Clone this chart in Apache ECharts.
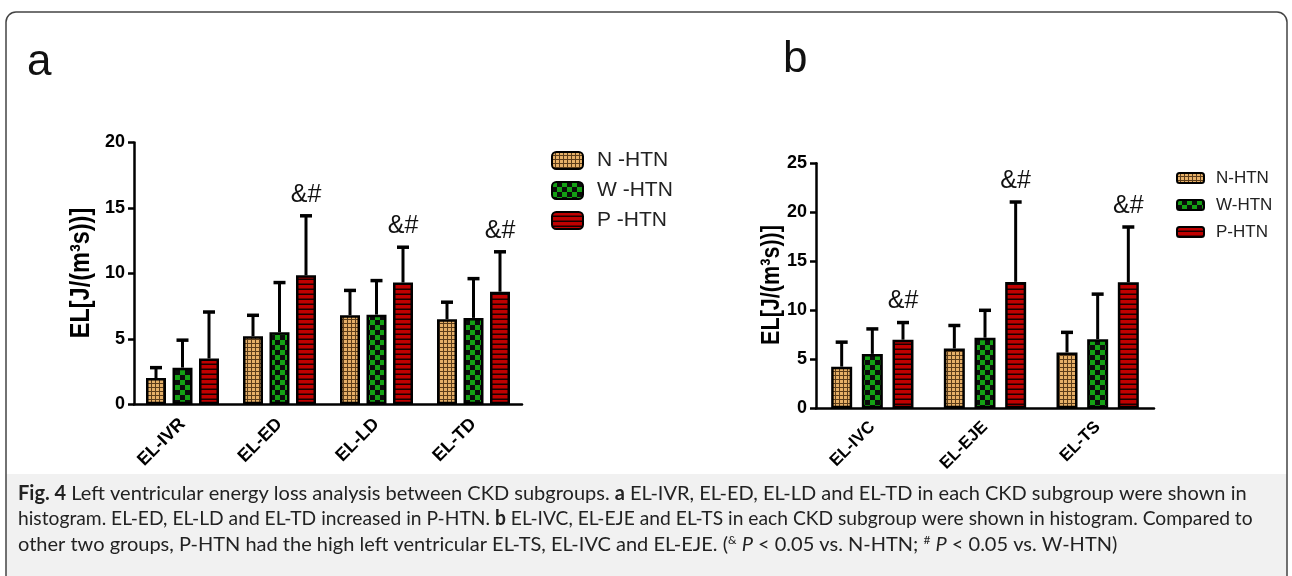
<!DOCTYPE html>
<html><head><meta charset="utf-8">
<script src="https://cdn.jsdelivr.net/npm/echarts@6/dist/echarts.min.js"></script>
<style>html,body{margin:0;padding:0;background:#fff}#c{width:1292px;height:576px}</style>
</head><body><div id="c"></div>
<script>
// ---- data ----
const catsA = ['EL-IVR','EL-ED','EL-LD','EL-TD'];
const nA    = [2.0, 5.2, 6.8, 6.5];
const nAerr = [2.8, 6.8, 8.7, 7.8];
const wA    = [2.8, 5.5, 6.85, 6.6];
const wAerr = [4.9, 9.3, 9.45, 9.6];
const pA    = [3.5, 9.85, 9.3, 8.6];
const pAerr = [7.05, 14.4, 12.0, 11.65];
const sigA  = ['', '&#', '&#', '&#'];
const catsB = ['EL-IVC','EL-EJE','EL-TS'];
const nB    = [4.25, 6.1, 5.7];
const nBerr = [6.75, 8.45, 7.75];
const wB    = [5.55, 7.2, 7.05];
const wBerr = [8.1, 10.0, 11.65];
const pB    = [7.0, 12.9, 12.85];
const pBerr = [8.75, 21.05, 18.5];
const sigB  = ['&#', '&#', '&#'];
const yTicksA = [0, 5, 10, 15, 20];
const yTicksB = [0, 5, 10, 15, 20, 25];
const namesA = ['N -HTN', 'W -HTN', 'P -HTN'];
const namesB = ['N-HTN', 'W-HTN', 'P-HTN'];
const yName = 'EL[J/(m³s))]';
const captionLines = [
  '{b|Fig. 4} Left ventricular energy loss analysis between CKD subgroups. {b|a} EL-IVR, EL-ED, EL-LD and EL-TD in each CKD subgroup were shown in',
  'histogram. EL-ED, EL-LD and EL-TD increased in P-HTN. {b|b} EL-IVC, EL-EJE and EL-TS in each CKD subgroup were shown in histogram. Compared to',
  'other two groups, P-HTN had the high left ventricular EL-TS, EL-IVC and EL-EJE. ({sup|&} {i|P} < 0.05 vs. N-HTN; {sup|#} {i|P} < 0.05 vs. W-HTN)'
];

// ---- styles ----
const AR = '"Liberation Sans", Arial, sans-serif';
const CAP = 'Lato, "Open Sans", sans-serif';
function pat(w, h, draw) {
  const c = document.createElement('canvas'); c.width = w; c.height = h;
  draw(c.getContext('2d')); return { image: c, repeat: 'repeat' };
}
const patN = pat(4, 4, g => { g.fillStyle = '#5c3d1a'; g.fillRect(0,0,4,4); g.fillStyle = '#e6b068'; g.fillRect(0,0,3,3); });
const patW = pat(10, 10, g => { g.fillStyle = '#0b0b0b'; g.fillRect(0,0,10,10); g.fillStyle = '#14a014'; g.fillRect(0,0,5,5); g.fillRect(5,5,5,5); });
const patP = pat(5, 5, g => { g.fillStyle = '#1a0000'; g.fillRect(0,0,5,5); g.fillStyle = '#c00000'; g.fillRect(0,0,5,3.5); });
const pats = [patN, patW, patP];

const bwA = 20, gapA = 0.325, bwB = 21, gapB = 0.46;
const stepA = bwA * (1 + gapA), stepB = bwB * (1 + gapB);

function barSeries(name, data, gi, k, bw, gap) {
  return { type: 'bar', name, data, xAxisIndex: gi, yAxisIndex: gi, barWidth: bw, barGap: (gap*100)+'%',
    itemStyle: { color: pats[k], borderColor: '#000', borderWidth: 2.5 }, z: 2 };
}
function errSeries(gi, vals, errs, sig, offset) {
  return { type: 'custom', xAxisIndex: gi, yAxisIndex: gi, z: 3, silent: true,
    data: vals.map((v, i) => [i, v, errs[i]]),
    renderItem(params, api) {
      const i = api.value(0);
      const p0 = api.coord([i, api.value(1)]), p1 = api.coord([i, api.value(2)]);
      const x = p0[0] + offset, cw = 6;
      const ch = [
        { type: 'line', shape: { x1: x, y1: p0[1], x2: x, y2: p1[1] }, style: { stroke: '#000', lineWidth: 3 } },
        { type: 'line', shape: { x1: x - cw, y1: p1[1], x2: x + cw, y2: p1[1] }, style: { stroke: '#000', lineWidth: 3.5 } }
      ];
      const s = sig && sig[params.dataIndex];
      if (s) ch.push({ type: 'text', style: { text: s, x: x, y: p1[1] - 21, align: 'center', verticalAlign: 'middle',
        fontSize: 25, fontFamily: AR, fill: '#111' } });
      return { type: 'group', children: ch };
    } };
}
function xAx(gi, data, fs, margin) {
  return { gridIndex: gi, type: 'category', data,
    axisLine: { lineStyle: { color: '#000', width: 2.5 } },
    axisTick: { alignWithLabel: true, length: 6, lineStyle: { color: '#000', width: 2.5 } },
    axisLabel: { rotate: 45, margin, fontWeight: 'bold', fontSize: fs, color: '#000', fontFamily: AR } };
}
function yAx(gi, ticks) {
  return { gridIndex: gi, type: 'value', min: ticks[0], max: ticks[ticks.length-1], interval: ticks[1]-ticks[0],
    splitLine: { show: false },
    axisLine: { show: true, lineStyle: { color: '#000', width: 2.5 } },
    axisTick: { show: true, length: 6, lineStyle: { color: '#000', width: 2.5 } },
    axisLabel: { fontWeight: 'bold', fontSize: 18, color: '#000', margin: 9, fontFamily: AR } };
}
function yTitle(x, y, fs, sx) {
  return { type: 'text', x, y, rotation: Math.PI / 2, scaleX: sx, scaleY: 1,
    style: { text: yName, align: 'center', verticalAlign: 'middle', fontSize: fs, fontWeight: 'bold', fontFamily: AR, fill: '#000' } };
}

const capRich = {
  b: { fontWeight: 'bold', fontSize: 20, fontFamily: CAP, fill: '#222' },
  i: { fontStyle: 'italic', fontSize: 20, fontFamily: CAP, fill: '#222' },
  sup: { fontSize: 12, fontFamily: CAP, fill: '#222', verticalAlign: 'top', padding: [0,0,9,0] }
};
function capLine(text, y, sx) {
  return { type: 'text', x: 18, y, scaleX: sx, scaleY: 1,
    style: { text, x: 0, y: 0, verticalAlign: 'top', fontSize: 20, fontFamily: CAP, fill: '#222', rich: capRich } };
}

const chart = echarts.init(document.getElementById('c'), null, { renderer: 'canvas' });
chart.setOption({
  animation: false,
  backgroundColor: '#fff',
  grid: [
    { left: 134, top: 142.5, width: 388, height: 261.8 },
    { left: 816, top: 163.3, width: 338, height: 245 }
  ],
  xAxis: [xAx(0, catsA, 18, 17), xAx(1, catsB, 17, 16)],
  yAxis: [yAx(0, yTicksA), yAx(1, yTicksB)],
  legend: [
    { data: namesA, orient: 'vertical', left: 546, top: 145, itemWidth: 31, itemHeight: 17, itemGap: 9, icon: 'roundRect',
      itemStyle: { borderColor: '#000', borderWidth: 2 },
      textStyle: { fontSize: 21, lineHeight: 21, color: '#222', fontFamily: AR, padding: [0,0,0,9] } },
    { data: namesB, orient: 'vertical', left: 1171, top: 164.5, itemWidth: 27, itemHeight: 10, itemGap: 10, icon: 'roundRect',
      itemStyle: { borderColor: '#000', borderWidth: 2 },
      textStyle: { fontSize: 17, lineHeight: 17, color: '#222', fontFamily: AR, padding: [0,0,0,7] } }
  ],
  series: [
    barSeries(namesA[0], nA, 0, 0, bwA, gapA),
    barSeries(namesA[1], wA, 0, 1, bwA, gapA),
    barSeries(namesA[2], pA, 0, 2, bwA, gapA),
    errSeries(0, nA, nAerr, null, -stepA),
    errSeries(0, wA, wAerr, null, 0),
    errSeries(0, pA, pAerr, sigA, stepA),
    barSeries(namesB[0], nB, 1, 0, bwB, gapB),
    barSeries(namesB[1], wB, 1, 1, bwB, gapB),
    barSeries(namesB[2], pB, 1, 2, bwB, gapB),
    errSeries(1, nB, nBerr, null, -stepB),
    errSeries(1, wB, wBerr, null, 0),
    errSeries(1, pB, pBerr, sigB, stepB)
  ],
  graphic: [
    { type: 'rect', z: -10, shape: { x: 6, y: 474, width: 1281, height: 130 }, style: { fill: '#f1f1f1' } },
    { type: 'rect', z: -5, shape: { x: 6, y: 12, width: 1281, height: 620, r: 10 }, style: { fill: 'none', stroke: '#444', lineWidth: 1.5 } },
    { type: 'text', left: 27, top: 41, style: { text: 'a', fontSize: 44, fontFamily: AR, fill: '#111' } },
    { type: 'text', left: 783, top: 38, style: { text: 'b', fontSize: 44, fontFamily: AR, fill: '#111' } },
    yTitle(82, 273, 27, 0.87),
    yTitle(772, 285, 26, 0.83),
    capLine(captionLines[0], 484, 1.0),
    capLine(captionLines[1], 509, 0.962),
    capLine(captionLines[2], 534, 1.0)
  ]
});
</script></body></html>
